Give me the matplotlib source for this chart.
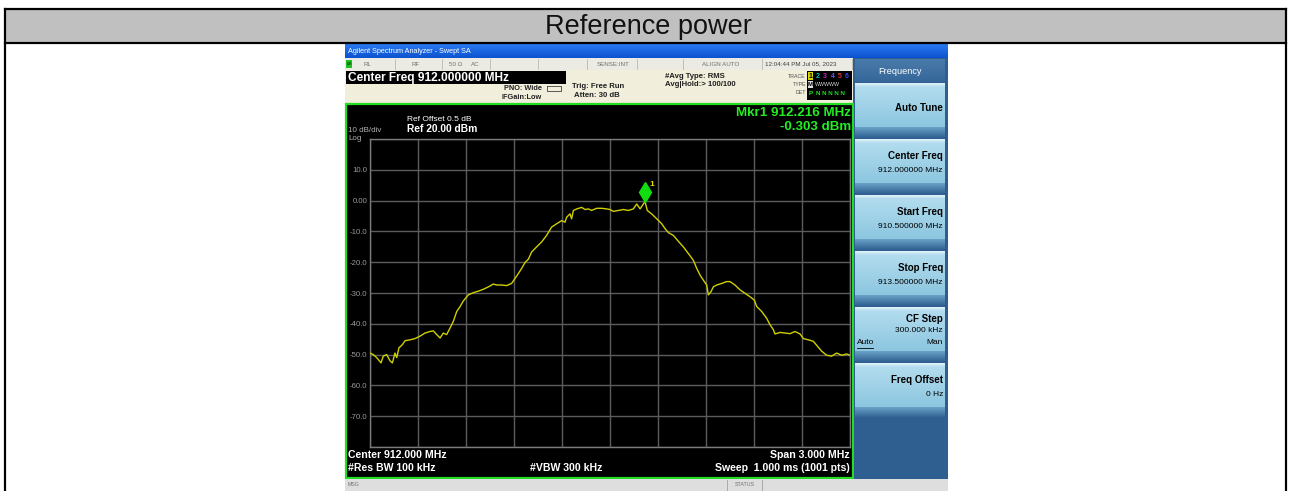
import matplotlib
matplotlib.use("Agg")
import matplotlib.pyplot as plt
import numpy as np
from matplotlib.patches import Rectangle
import matplotlib.transforms as mtransforms

plt.rcParams['font.family'] = ['Liberation Sans', 'DejaVu Sans']

# ---------------- data ----------------
title_text = "Reference power"

freq_mhz = [910.500, 910.521, 910.542, 910.569, 910.583, 910.604, 910.625, 910.640, 910.656, 910.667,
            910.681, 910.702, 910.719, 910.750, 910.781, 910.813, 910.844, 910.875, 910.896, 910.917,
            910.938, 910.958, 910.979, 911.000, 911.021, 911.042, 911.063, 911.083, 911.115, 911.146,
            911.177, 911.208, 911.240, 911.271, 911.292, 911.323, 911.354, 911.385, 911.406, 911.427,
            911.448, 911.469, 911.490, 911.510, 911.542, 911.573, 911.604, 911.635, 911.667, 911.698,
            911.719, 911.729, 911.750, 911.760, 911.771, 911.792, 911.823, 911.844, 911.865, 911.885,
            911.917, 911.948, 911.979, 912.000, 912.021, 912.052, 912.083, 912.115, 912.146, 912.167,
            912.188, 912.202, 912.219, 912.233, 912.260, 912.292, 912.323, 912.344, 912.365, 912.396,
            912.427, 912.458, 912.490, 912.521, 912.542, 912.563, 912.583, 912.604, 912.615, 912.631,
            912.646, 912.667, 912.698, 912.729, 912.750, 912.781, 912.813, 912.844, 912.875, 912.902,
            912.917, 912.948, 912.979, 913.000, 913.021, 913.031, 913.063, 913.094, 913.125, 913.156,
            913.188, 913.208, 913.240, 913.271, 913.302, 913.323, 913.354, 913.385, 913.417, 913.448,
            913.479, 913.500]

level_dbm = [-49.5, -50.0, -51.0, -52.7, -50.5, -50.0, -52.0, -52.7, -49.5, -51.0,
             -47.8, -46.8, -45.5, -45.2, -44.8, -44.0, -43.0, -42.5, -42.3, -43.5,
             -44.6, -43.0, -43.5, -41.4, -39.2, -36.0, -34.4, -32.6, -30.6, -29.9,
             -29.4, -28.8, -28.0, -27.1, -27.4, -27.4, -27.6, -26.9, -25.3, -23.7,
             -22.0, -20.1, -19.0, -16.7, -15.0, -13.4, -11.3, -8.6, -7.5, -6.5,
             -7.0, -5.4, -4.3, -5.9, -3.2, -2.7, -2.2, -2.9, -2.7, -3.2,
             -2.5, -2.5, -2.7, -2.9, -3.5, -3.2, -2.9, -3.2, -2.7, -1.1,
             -2.7, -1.6, -0.3, -3.2, -4.3, -5.9, -7.5, -9.1, -10.4, -11.3,
             -13.2, -15.0, -17.2, -19.4, -22.0, -24.2, -25.8, -27.4, -30.6, -29.6,
             -28.0, -27.4, -26.9, -26.3, -26.3, -27.4, -29.0, -30.1, -31.2, -32.3,
             -34.4, -36.0, -38.2, -40.3, -41.9, -43.3, -42.8, -43.0, -43.2, -42.5,
             -43.3, -44.8, -45.2, -45.7, -47.6, -48.9, -50.2, -50.5, -49.5, -50.2,
             -49.8, -50.2]

ref_level = 20.0
db_per_div = 10.0
start_freq = 910.5
stop_freq = 913.5
ytick_labels = ["", "10.0", "0.00", "-10.0", "-20.0", "-30.0", "-40.0", "-50.0", "-60.0", "-70.0", ""]

marker_freq = 912.216
marker_level = -0.303

softkeys = [("Auto Tune", ""), ("Center Freq", "912.000000 MHz"),
            ("Start Freq", "910.500000 MHz"), ("Stop Freq", "913.500000 MHz"),
            ("CF Step", "300.000 kHz"), ("Freq Offset", "0 Hz")]

# ---------------- figure ----------------
W, H = 1290, 491
fig = plt.figure(figsize=(W / 100, H / 100), dpi=100)
fig.patch.set_facecolor('white')
bg = fig.add_axes([0, 0, 1, 1])
bg.axis('off')


def rect(x0, y0, x1, y1, fc, ec='none', lw=0, z=1):
    bg.add_patch(Rectangle((x0, y0), x1 - x0, y1 - y0, facecolor=fc,
                           edgecolor=ec, linewidth=lw, zorder=z))


def grad(x0, y0, x1, y1, c_top, c_bot, z=2):
    ct = np.array(matplotlib.colors.to_rgb(c_top))
    cb = np.array(matplotlib.colors.to_rgb(c_bot))
    t = np.linspace(0, 1, 64)[:, None]
    img = (ct[None, :] * (1 - t) + cb[None, :] * t)[:, None, :]
    bg.imshow(img, extent=(x0, x1, y1, y0), aspect='auto', zorder=z,
              interpolation='bilinear')


def txt(x, y, s, size, color='black', ha='left', weight='normal', z=6, **kw):
    bg.text(x, y, s, fontsize=size, color=color, ha=ha, va='center',
            fontweight=weight, zorder=z, **kw)


# table header
rect(5, 9, 1286, 43, '#c0c0c0')
px = 0.72
for xs, ys in [([5, 1286], [9, 9]), ([5, 1286], [42.5, 42.5]),
               ([5, 5], [9, 491]), ([1286, 1286], [9, 491])]:
    bg.plot(xs, ys, color='black', lw=2.2 * px, zorder=8, solid_capstyle='projecting')
txt(648, 26.5, title_text, 19.5, color='#111111', ha='center')

# screenshot frame
rect(345, 44, 948, 491, '#2f5f90', z=1)
grad(345, 44, 948, 58, '#2a7af0', '#0c52d0', z=2)
txt(348, 51, "Agilent Spectrum Analyzer - Swept SA", 5.2, color='white', z=6)

# status row
rect(345, 58, 853, 70, '#ebeae3', z=2)
for xs in [395, 442, 490, 538, 587, 637, 683, 762, 852]:
    bg.plot([xs, xs], [59, 69], color='#b8b8b0', lw=0.6, zorder=3)
rect(346, 60, 352, 68, '#20c020', z=4)
txt(349, 64, "LXI", 2.6, color='black', ha='center', z=6)
for x, s in [(364, "RL"), (412, "RF"), (449, "50 Ω"), (471, "AC"),
             (597, "SENSE:INT"), (702, "ALIGN AUTO")]:
    txt(x, 64, s, 4.5, color='#707070')
txt(765, 64, "12:04:44 PM Jul 05, 2023", 4.5, color='#404040')

# info area
rect(345, 70, 853, 104, '#f1eedb', z=2)
rect(346, 71, 566, 84, 'black', z=3)
txt(348, 77.5, "Center Freq 912.000000 MHz", 8.6, color='white', weight='bold')
txt(542, 88.5, "PNO: Wide", 5.3, color='#202020', ha='right', weight='bold')
txt(542, 97, "IFGain:Low", 5.3, color='#202020', ha='right', weight='bold')
bg.plot([547, 561, 561, 547, 547], [86, 86, 91, 91, 86], color='#404040', lw=0.6, zorder=4)
txt(572, 86.5, "Trig: Free Run", 5.6, color='#202020', weight='bold')
txt(574, 95, "Atten: 30 dB", 5.6, color='#202020', weight='bold')
txt(665, 76.5, "#Avg Type: RMS", 5.6, color='#202020', weight='bold')
txt(665, 84.5, "Avg|Hold:> 100/100", 5.6, color='#202020', weight='bold')
txt(806, 76, "TRACE", 3.8, color='#505050', ha='right')
txt(806, 84, "TYPE", 3.8, color='#505050', ha='right')
txt(806, 92.5, "DET", 3.8, color='#505050', ha='right')
rect(807, 71, 852, 100, 'black', z=3)
rect(808, 72, 813, 80, '#d8d800', z=4)
for i, (s, c) in enumerate([("1", "black"), ("2", "#00c8c8"), ("3", "#d020d0"),
                            ("4", "#6060ff"), ("5", "#e03030"), ("6", "#4040ff")]):
    txt(810.5 + i * 7.3, 76, s, 5, color=c, ha='center', weight='bold')
rect(808, 81, 813, 88, '#e0e0e0', z=4)
txt(810.5, 84.5, "M", 4.2, color='black', ha='center', weight='bold')
txt(815, 84.5, "WWWWW", 3.8, color='#d8d8d8')
txt(810.5, 93, "P", 4.6, color='#20e020', ha='center', weight='bold')
txt(816, 93, "N N N N N", 4.4, color='#20e020', weight='bold')

# plot area
rect(346, 104, 853, 478, 'black', ec='#22dd22', lw=1.6, z=2)
txt(407, 119, "Ref Offset 0.5 dB", 6.0, color='white')
txt(407, 129, "Ref 20.00 dBm", 7.4, color='white', weight='bold')
txt(348, 131, "10 dB/div", 5.8, color='#b0b0b0')
txt(348, 138.5, "Log", 5.8, color='#b0b0b0')
txt(851, 113, "Mkr1 912.216 MHz", 9.6, color='#22ee22', ha='right', weight='bold')
txt(851, 127, "-0.303 dBm", 9.6, color='#22ee22', ha='right', weight='bold')
txt(348, 455, "Center 912.000 MHz", 7.6, color='white', weight='bold')
txt(348, 468, "#Res BW 100 kHz", 7.6, color='white', weight='bold')
txt(530, 468, "#VBW 300 kHz", 7.6, color='white', weight='bold')
txt(850, 455, "Span 3.000 MHz", 7.6, color='white', ha='right', weight='bold')
txt(850, 468, "Sweep  1.000 ms (1001 pts)", 7.6, color='white', ha='right', weight='bold')

# bottom status bar
rect(345, 479, 948, 491, '#dedede', z=2)
txt(348, 485, "MSG", 3.8, color='#707070')
bg.plot([727, 727], [480, 491], color='#a0a0a0', lw=0.6, zorder=3)
bg.plot([762, 762], [480, 491], color='#a0a0a0', lw=0.6, zorder=3)
txt(744.5, 485, "STATUS", 3.8, color='#707070', ha='center')

# right softkey panel
rect(854, 58, 947, 479, '#2f5f90', z=2)
grad(855, 59, 945, 82, '#4a7caa', '#35669a', z=3)
txt(900, 71.5, "Frequency", 6.6, color='white', ha='center')
for i, (label, value) in enumerate(softkeys):
    top = 83 + 56 * i
    grad(855, top, 945, top + 4, '#e4f4fa', '#b2dcee', z=3)
    grad(855, top + 4, 945, top + 44, '#b2dcee', '#8cc6e0', z=3)
    grad(855, top + 44, 945, top + 55, '#6aa2c8', '#2f5f90', z=3)
    if value == "":
        txt(943, top + 25, label, 7.0, color='black', ha='right', weight='bold')
    elif label == "CF Step":
        txt(943, top + 12, label, 7.0, color='black', ha='right', weight='bold')
        txt(943, top + 24, value, 6.0, color='black', ha='right')
        txt(857, top + 36, "Auto", 6.0, color='black', ha='left')
        bg.plot([857, 873], [top + 41, top + 41], color='black', lw=0.6, zorder=6)
        txt(943, top + 36, "Man", 6.0, color='black', ha='right')
    else:
        txt(943, top + 17, label, 7.0, color='black', ha='right', weight='bold')
        txt(943, top + 32, value, 6.0, color='black', ha='right')

bg.set_xlim(0, W)
bg.set_ylim(H, 0)

# ---------------- spectrum graticule ----------------
ax = fig.add_axes([370 / W, (H - 447) / H, 480 / W, 308 / H])
ax.set_facecolor('black')
ax.set_xlim(start_freq, stop_freq)
bottom_level = ref_level - 10 * db_per_div
ax.set_ylim(bottom_level, ref_level)
ax.set_xticks(np.linspace(start_freq, stop_freq, 11))
yt = np.linspace(ref_level, bottom_level, 11)
ax.set_yticks(yt)
ax.set_yticklabels(ytick_labels)
ax.grid(True, color='#5c5c5c', lw=1.0)
for sp in ax.spines.values():
    sp.set_color('#7a7a7a')
    sp.set_linewidth(1.0)
ax.tick_params(length=0, labelbottom=False, labelsize=5.6, labelcolor='#9a9a9a', pad=2)

ax.plot(freq_mhz, level_dbm, color='#cfcf00', lw=1.0, zorder=3)

trans = mtransforms.offset_copy(ax.transData, fig=fig, x=0, y=6.6, units='points')
ax.plot([marker_freq], [marker_level], marker='d', color='#11dd11', markersize=10.5,
        transform=trans, zorder=4, clip_on=False)
trans2 = mtransforms.offset_copy(ax.transData, fig=fig, x=5.5, y=12, units='points')
ax.text(marker_freq, marker_level, "1", color='#e0e000', fontsize=6, fontweight='bold',
        transform=trans2, ha='center', va='center', zorder=4)

fig.savefig("out.png", dpi=100, facecolor='white')
